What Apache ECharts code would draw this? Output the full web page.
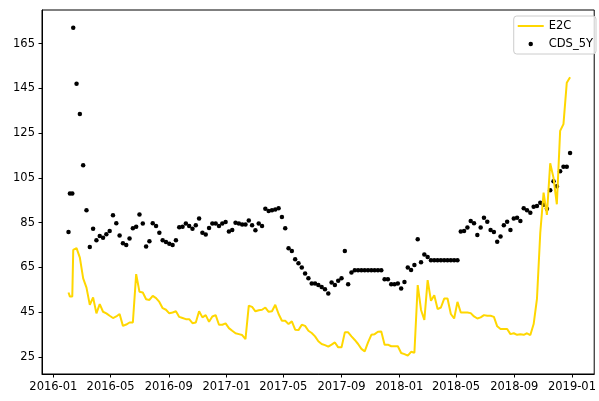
<!DOCTYPE html>
<html>
<head>
<meta charset="utf-8">
<script src="https://cdn.jsdelivr.net/npm/echarts@6/dist/echarts.min.js"></script>
<style>
html,body{margin:0;padding:0;background:#fff;}
#chart{width:599px;height:401px;}
</style>
</head>
<body>
<div id="chart"></div>
<script>
var dates = [
'2016-02-02','2016-02-05','2016-02-10',
'2016-02-12','2016-02-19','2016-02-26',
'2016-03-04','2016-03-11','2016-03-18','2016-03-25',
'2016-04-01','2016-04-08','2016-04-15','2016-04-22','2016-04-29',
'2016-05-06','2016-05-13','2016-05-20','2016-05-27',
'2016-06-03','2016-06-10','2016-06-17','2016-06-24',
'2016-07-01','2016-07-08','2016-07-15','2016-07-22','2016-07-29',
'2016-08-05','2016-08-12','2016-08-19','2016-08-26',
'2016-09-02','2016-09-09','2016-09-16','2016-09-23','2016-09-30',
'2016-10-07','2016-10-14','2016-10-21','2016-10-28',
'2016-11-04','2016-11-11','2016-11-18','2016-11-25',
'2016-12-02','2016-12-09','2016-12-16','2016-12-23','2016-12-30',
'2017-01-06','2017-01-13','2017-01-20','2017-01-27',
'2017-02-03','2017-02-10','2017-02-17','2017-02-24',
'2017-03-03','2017-03-10','2017-03-17','2017-03-24','2017-03-31',
'2017-04-07','2017-04-14','2017-04-21','2017-04-28',
'2017-05-05','2017-05-12','2017-05-19','2017-05-26',
'2017-06-02','2017-06-09','2017-06-16','2017-06-23','2017-06-30',
'2017-07-07','2017-07-14','2017-07-21','2017-07-28',
'2017-08-04','2017-08-11','2017-08-18','2017-08-25',
'2017-09-01','2017-09-08','2017-09-15','2017-09-22','2017-09-29',
'2017-10-06','2017-10-13','2017-10-20','2017-10-27',
'2017-11-03','2017-11-10','2017-11-17','2017-11-24',
'2017-12-01','2017-12-08','2017-12-15','2017-12-22','2017-12-29',
'2018-01-05','2018-01-12','2018-01-19','2018-01-26',
'2018-02-02','2018-02-09','2018-02-16','2018-02-23',
'2018-03-02','2018-03-09','2018-03-16','2018-03-23','2018-03-30',
'2018-04-06','2018-04-13','2018-04-20','2018-04-27',
'2018-05-04','2018-05-11','2018-05-18','2018-05-25',
'2018-06-01','2018-06-08','2018-06-15','2018-06-22','2018-06-29',
'2018-07-06','2018-07-13','2018-07-20','2018-07-27',
'2018-08-03','2018-08-10','2018-08-17','2018-08-24','2018-08-31',
'2018-09-07','2018-09-14','2018-09-21','2018-09-28',
'2018-10-05','2018-10-12','2018-10-19','2018-10-26',
'2018-11-02','2018-11-09','2018-11-16','2018-11-23','2018-11-30',
'2018-12-07','2018-12-14','2018-12-21','2018-12-28'
];

var e2c = [
53.8, 52.0, 52.0,
72.8, 73.6, 69.4,
60.1, 56.0, 48.3, 51.6,
44.5, 48.6, 45.2, 44.5, 43.4,
42.4, 43.1, 44.2, 38.9,
39.5, 40.4, 40.4, 62.0,
54.1, 53.8, 50.8, 50.5, 52.3,
51.3, 49.6, 46.8, 46.1,
44.5, 44.9, 45.4, 42.9, 42.4,
41.9, 41.9, 40.1, 40.4,
45.4, 42.7, 43.7, 40.7,
43.1, 43.7, 39.4, 39.4, 40.0,
37.9, 36.7, 35.6, 35.2,
34.8, 33.0, 47.9, 47.4,
45.4, 45.9, 46.1, 47.1, 45.2,
45.4, 48.3, 44.2, 41.2,
41.2, 39.7, 40.9, 37.2,
37.0, 39.4, 38.9, 36.7, 35.7,
34.2, 32.0, 30.8, 30.3,
29.6, 30.5, 31.5, 29.3,
29.3, 36.0, 36.0, 34.2, 32.6,
30.8, 28.6, 27.5, 31.5,
34.9, 35.2, 36.3, 36.4,
30.5, 30.5, 29.8, 29.8, 29.8,
26.8, 26.3, 25.6, 27.3,
26.9, 57.1, 46.0, 41.6,
59.3, 50.1, 52.6, 46.4, 47.1,
51.1, 51.1, 44.2, 42.2,
49.6, 44.9, 44.9, 44.9,
44.6, 43.1, 42.2, 42.7, 43.7,
43.4, 43.4, 42.9, 38.7,
37.5, 37.5, 37.5, 35.2, 35.6,
34.9, 35.2, 34.9, 35.6,
34.8, 39.7, 51.0, 80.5,
98.4, 88.5, 111.5, 105.0, 93.2,
126.0, 129.0, 147.5, 150.0
];

var cds5y = [
80.8, 98.0, 98.0,
172.1, 147.0, 133.5,
110.7, 90.6, 74.1, 82.3,
77.1, 79.0, 78.3, 79.8, 81.3,
88.3, 84.7, 79.3, 75.8,
75.0, 77.9, 82.5, 83.2,
88.7, 84.6, 74.3, 76.7, 84.7,
83.5, 80.5, 77.2, 76.4,
75.6, 75.0, 77.2, 83.0, 83.2,
84.6, 83.5, 82.3, 83.9,
86.9, 80.5, 79.7, 82.6,
84.6, 84.6, 83.5, 84.6, 85.3,
81.0, 81.7, 85.0, 84.6,
84.2, 84.2, 86.0, 83.9,
81.6, 84.6, 83.5, 91.2, 90.2,
90.5, 90.9, 91.4, 87.5,
82.5, 73.6, 72.4, 68.7,
66.9, 65.0, 62.3, 60.2, 57.8,
57.8, 57.2, 56.3, 55.3,
53.4, 58.3, 57.2, 59.0,
60.2, 72.4, 57.5, 62.7, 63.8,
63.8, 63.8, 63.8, 63.8,
63.8, 63.8, 63.8, 63.8,
59.7, 59.7, 57.5, 57.5, 57.8,
55.6, 58.5, 65.0, 63.9,
66.1, 77.6, 67.3, 70.8,
69.7, 68.2, 68.2, 68.2, 68.2,
68.2, 68.2, 68.2, 68.2,
68.2, 81.0, 81.3, 82.8,
85.7, 84.7, 79.5, 82.8, 87.2,
85.4, 81.7, 80.8, 76.5,
78.8, 83.9, 85.4, 81.7, 86.9,
87.2, 85.7, 91.4, 90.6,
89.4, 92.1, 92.4, 93.9,
93.0, 91.2, 99.5, 103.5, 101.3,
108.0, 110.0, 110.0, 116.1
];

var yTicks = [25, 45, 65, 85, 105, 125, 145, 165];
var xTickLabels = ['2016-01','2016-05','2016-09','2017-01','2017-05','2017-09','2018-01','2018-05','2018-09','2019-01'];

function toTime(s) {
  var p = s.split('-');
  return Date.UTC(+p[0], +p[1] - 1, p[2] ? +p[2] : 1);
}
var xTickValues = xTickLabels.map(function (s) { return toTime(s); });

var e2cData = dates.map(function (d, i) { return [toTime(d), e2c[i]]; });
var cdsData = dates.map(function (d, i) { return [toTime(d), cds5y[i]]; });

function fmtDate(v) {
  var d = new Date(v);
  var m = d.getUTCMonth() + 1;
  return d.getUTCFullYear() + '-' + (m < 10 ? '0' + m : m);
}

var font = 'DejaVu Sans';
var chart = echarts.init(document.getElementById('chart'), null, {renderer: 'canvas'});
chart.setOption({
  animation: false,
  backgroundColor: '#fff',
  grid: {
    left: 42, right: 1, top: 10, bottom: 27,
    show: true, borderColor: '#000', borderWidth: 1, backgroundColor: 'transparent'
  },
  legend: {
    right: 3, top: 16, orient: 'vertical',
    padding: [4, 3, 4, 4],
    itemGap: 6,
    itemWidth: 26, itemHeight: 4.5,
    borderColor: '#cccccc', borderWidth: 1, borderRadius: 3,
    backgroundColor: 'rgba(255,255,255,0.8)',
    textStyle: {fontFamily: font, fontSize: 11.5, color: '#000'},
    data: [
      {name: 'E2C', icon: 'path://M0,0L26,0L26,2L0,2Z', itemStyle: {color: '#FFD700'}},
      {name: 'CDS_5Y', icon: 'circle', itemStyle: {color: '#000'}}
    ]
  },
  xAxis: {
    type: 'value',
    min: toTime('2015-12-08'), max: toTime('2019-02-17'),
    splitLine: {show: false},
    axisLine: {show: true, lineStyle: {color: '#000', width: 1}},
    axisTick: {show: true, length: 3.5, lineStyle: {color: '#000', width: 1}, customValues: xTickValues},
    axisLabel: {
      color: '#000', fontFamily: font, fontSize: 11.5, margin: 7,
      customValues: xTickValues,
      formatter: function (v) { return fmtDate(v); }
    }
  },
  yAxis: {
    type: 'value',
    min: 17.4, max: 180,
    splitLine: {show: false},
    axisLine: {show: true, lineStyle: {color: '#000', width: 1}},
    axisTick: {show: true, length: 3.5, lineStyle: {color: '#000', width: 1}, customValues: yTicks},
    axisLabel: {color: '#000', fontFamily: font, fontSize: 11.5, margin: 7, customValues: yTicks}
  },
  series: [
    {
      name: 'E2C', type: 'line', data: e2cData,
      showSymbol: false, symbol: 'none',
      lineStyle: {color: '#FFD700', width: 2},
      itemStyle: {color: '#FFD700'},
      z: 3
    },
    {
      name: 'CDS_5Y', type: 'scatter', data: cdsData,
      symbolSize: 4.5,
      itemStyle: {color: '#000', opacity: 1},
      z: 2
    }
  ]
});
</script>
</body>
</html>
